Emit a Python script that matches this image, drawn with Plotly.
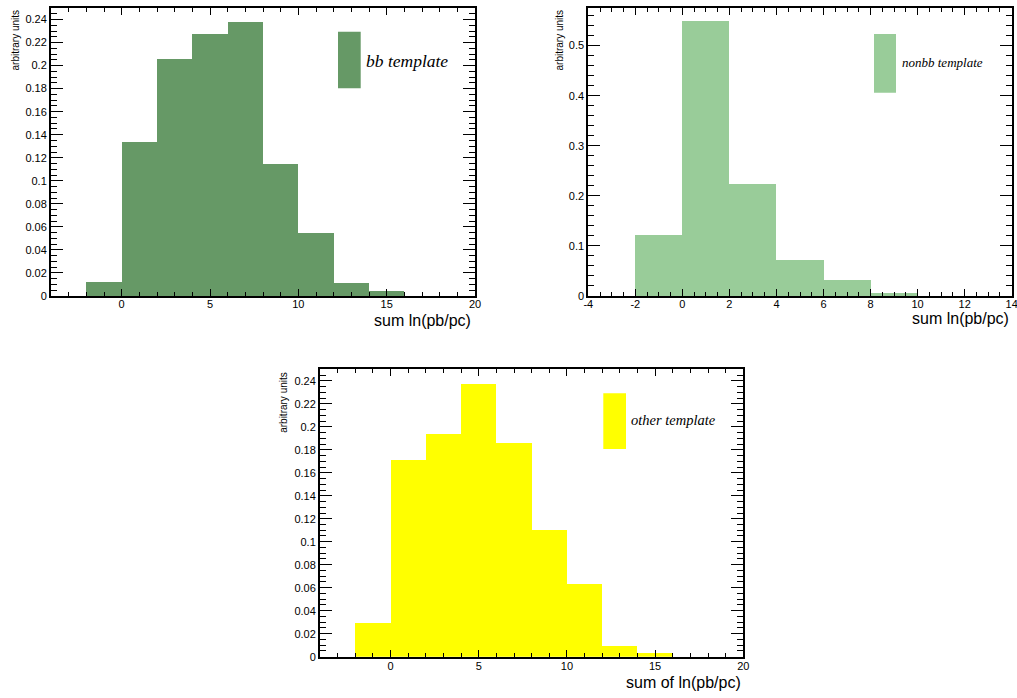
import plotly.graph_objects as go

W, H = 1017, 698

# ---- data ----
bin_width = 2
bb_centers = [-1, 1, 3, 5, 7, 9, 11, 13, 15]
bb_values = [0.0122, 0.134, 0.2057, 0.2275, 0.238, 0.1143, 0.0551, 0.0116, 0.0044]

nonbb_centers = [-1, 1, 3, 5, 7, 9, 11]
nonbb_values = [0.122, 0.5487, 0.223, 0.0721, 0.0314, 0.0067, 0.0008]

other_centers = [-1, 1, 3, 5, 7, 9, 11, 13, 15]
other_values = [0.0289, 0.1715, 0.194, 0.2374, 0.1857, 0.1099, 0.063, 0.0093, 0.0029]

nonbb_xticks = [-4, -2, 0, 2, 4, 6, 8, 10, 12, 14]
nonbb_xticklabels = ["-4", "-2", "0", "2", "4", "6", "8", "10", "12", "14"]

titles_x = ["sum ln(pb/pc)", "sum ln(pb/pc)", "sum of ln(pb/pc)"]
title_y = "arbitrary units"
legend_labels = ["bb template", "nonbb template", "other template"]
colors = ["#669966", "#99cc99", "#ffff00"]


def px(x):
    return x / W


def py(y):
    return 1 - y / H


# panel boxes in pixels: (left, right, top, bottom)
boxes = [(51, 475, 8, 296), (588.3, 1011.7, 8, 296), (320, 743.3, 369.3, 656.7)]

fig = go.Figure()
series = [(bb_centers, bb_values), (nonbb_centers, nonbb_values), (other_centers, other_values)]
for i, (c, v) in enumerate(series):
    sfx = "" if i == 0 else str(i + 1)
    fig.add_trace(go.Bar(x=c, y=v, width=[bin_width] * len(c), marker=dict(color=colors[i], line=dict(width=0)),
                         xaxis="x" + sfx, yaxis="y" + sfx, showlegend=False, hoverinfo="skip"))

tickfont = dict(family="Liberation Sans, Arial, sans-serif", size=11, color="black")

xcfg = [dict(range=[-4, 20], dtick=5, tick0=0, minor_dtick=1, lw=2),
        dict(range=[-4, 14], dtick=2, tick0=0, minor_dtick=0.5, lw=2),
        dict(range=[-4, 20], dtick=5, tick0=0, minor_dtick=1, lw=2.6)]
ycfg = [dict(range=[0, 0.25], dtick=0.02, minor_dtick=0.005),
        dict(range=[0, 0.575], dtick=0.1, minor_dtick=0.02),
        dict(range=[0, 0.25], dtick=0.02, minor_dtick=0.005)]

layout = dict(width=W, height=H, margin=dict(l=0, r=0, t=0, b=0, autoexpand=False), paper_bgcolor="white",
              plot_bgcolor="white", bargap=0, showlegend=False)

shapes = []
annotations = []
for i in range(3):
    sfx = "" if i == 0 else str(i + 1)
    l, r, t, b = boxes[i]
    xc, yc = xcfg[i], ycfg[i]
    xa = dict(
        domain=[px(l), px(r)], anchor="y" + sfx, range=xc["range"], dtick=xc["dtick"], tick0=xc["tick0"],
        ticks="inside", ticklen=7, tickwidth=1, tickcolor="black", showline=True, linewidth=xc["lw"],
        linecolor="black", mirror="allticks", showgrid=False, zeroline=False, tickfont=tickfont,
        automargin=False, ticklabelstandoff=-3, ticklabeloverflow="allow",
        minor=dict(dtick=xc["minor_dtick"], tick0=0, ticks="inside", ticklen=4, tickwidth=1,
                   tickcolor="black", showgrid=False),
        fixedrange=True)
    if i == 1:
        xa.update(tickmode="array", tickvals=nonbb_xticks, ticktext=nonbb_xticklabels)
    layout["xaxis" + sfx] = xa
    layout["yaxis" + sfx] = dict(
        domain=[py(b), py(t)], anchor="x" + sfx, range=yc["range"], dtick=yc["dtick"], tick0=0,
        ticks="inside", ticklen=12, tickwidth=1, tickcolor="black", showline=True, linewidth=2,
        linecolor="black", mirror="allticks", showgrid=False, zeroline=False, tickfont=tickfont,
        automargin=False, ticklabeloverflow="allow",
        minor=dict(dtick=yc["minor_dtick"], tick0=0, ticks="inside", ticklen=6, tickwidth=1,
                   tickcolor="black", showgrid=False),
        fixedrange=True)

# x titles
xt_pos = [(473, 320.7, 16), (1010.7, 318.3, 16), (742.7, 682.7, 16)]
for i, (x, y, s) in enumerate(xt_pos):
    annotations.append(dict(text=titles_x[i], x=px(x), y=py(y), xref="paper", yref="paper",
                            xanchor="right", yanchor="middle", showarrow=False,
                            font=dict(family="Liberation Sans, Arial, sans-serif", size=s, color="black")))
# y titles
yt_pos = [(15, 8), (559, 8), (283.3, 370)]
for (x, y) in yt_pos:
    annotations.append(dict(text=title_y, x=px(x), y=py(y), xref="paper", yref="paper",
                            xanchor="center", yanchor="top", textangle=-90, showarrow=False,
                            font=dict(family="Liberation Sans, Arial, sans-serif", size=10, color="black")))

# legends
leg_boxes = [(338, 360.7, 31.7, 88.3), (874, 896, 34, 92.7), (603.3, 626, 393.3, 449)]
leg_text = [(364, 61, 17.5), (900, 62.7, 13), (629, 420, 14.5)]
for i in range(3):
    l, r, t, b = leg_boxes[i]
    shapes.append(dict(type="rect", xref="paper", yref="paper", x0=px(l), x1=px(r), y0=py(b), y1=py(t),
                       fillcolor=colors[i], line=dict(width=0), layer="above"))
    x, y, s = leg_text[i]
    annotations.append(dict(text="<i>" + legend_labels[i] + "</i>", x=px(x), y=py(y), xref="paper",
                            yref="paper", xanchor="left", yanchor="middle", showarrow=False,
                            font=dict(family="Liberation Serif, Times New Roman, serif", size=s,
                                      color="black")))

layout["shapes"] = shapes
layout["annotations"] = annotations
fig.update_layout(**layout)
fig.write_html("out.html", config={"displayModeBar": False, "staticPlot": True},
               post_script="document.body.style.margin='0px';document.body.style.overflow='hidden';")
